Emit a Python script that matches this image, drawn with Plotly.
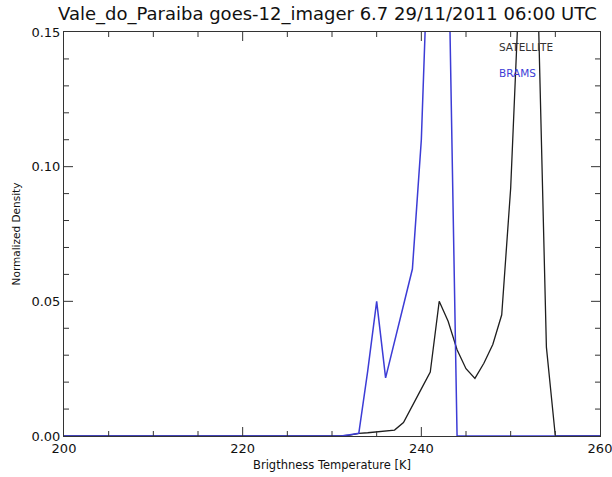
import plotly.graph_objects as go

# Brightness temperature bins [K]
temperature = [200, 230, 231, 232, 233, 234, 235, 236, 237, 238, 239, 240,
               241, 242, 243, 244, 245, 246, 247, 248, 249, 250, 251, 252,
               253, 254, 255, 256, 260]

# SATELLITE normalized density
satellite = [0.0, 0.0, 0.0, 0.0003, 0.001, 0.0012, 0.0015, 0.002, 0.0022, 0.005,
             0.011, 0.0175, 0.0237, 0.050, 0.0426, 0.032, 0.0250, 0.0214, 0.027,
             0.034, 0.045, 0.092, 0.17, 0.22, 0.17, 0.033, 0.0, 0.0, 0.0]

# BRAMS normalized density
brams = [0.0, 0.0, 0.0, 0.0005, 0.001, 0.0242, 0.050, 0.0216, 0.035, 0.049,
         0.062, 0.11, 0.25, 0.30, 0.19, 0.0, 0.0, 0.0, 0.0, 0.0, 0.0, 0.0,
         0.0, 0.0, 0.0, 0.0, 0.0, 0.0, 0.0]

x_major = [200, 220, 240, 260]
y_major = [0.0, 0.05, 0.10, 0.15]

title_text = "Vale_do_Paraiba goes-12_imager 6.7 29/11/2011 06:00 UTC"
x_title = "Brigthness Temperature [K]"
y_title = "Normalized Density"

BLACK = "#1e1e1e"
BLUE = "#3c3cd6"
AXIS = "#333333"
FONT = "DejaVu Sans"

fig = go.Figure()
fig.add_trace(go.Scatter(x=temperature, y=satellite, mode="lines",
                         line=dict(color=BLACK, width=1.3), name="SATELLITE"))
fig.add_trace(go.Scatter(x=temperature, y=brams, mode="lines",
                         line=dict(color=BLUE, width=1.5), name="BRAMS"))

fig.add_annotation(text="SATELLITE", xref="paper", yref="paper", x=0.808, y=0.962,
                   xanchor="left", yanchor="middle", showarrow=False,
                   font=dict(family=FONT, size=10.5, color="#333333"))
fig.add_annotation(text="BRAMS", xref="paper", yref="paper", x=0.808, y=0.898,
                   xanchor="left", yanchor="middle", showarrow=False,
                   font=dict(family=FONT, size=10.5, color=BLUE))

# Inward tick marks (IDL style) on all four sides, placed in axis coordinates
tick_line = dict(color=AXIS, width=1)
x_minor = list(range(205, 260, 5))
for xv in x_minor:
    ln = 9 if xv % 20 == 0 else 5
    fig.add_shape(type="line", xref="x", yref="paper", ysizemode="pixel",
                  yanchor=0, x0=xv, x1=xv, y0=0, y1=ln, line=tick_line, layer="above")
    fig.add_shape(type="line", xref="x", yref="paper", ysizemode="pixel",
                  yanchor=1, x0=xv, x1=xv, y0=0, y1=-ln, line=tick_line, layer="above")
y_minor = [i / 100 for i in range(1, 15)]
for yv in y_minor:
    ln = 9 if abs(yv - 0.05) < 1e-9 or abs(yv - 0.10) < 1e-9 else 5
    fig.add_shape(type="line", yref="y", xref="paper", xsizemode="pixel",
                  xanchor=0, y0=yv, y1=yv, x0=0, x1=ln, line=tick_line, layer="above")
    fig.add_shape(type="line", yref="y", xref="paper", xsizemode="pixel",
                  xanchor=1, y0=yv, y1=yv, x0=0, x1=-ln, line=tick_line, layer="above")

fig.update_layout(
    template="none",
    width=612, height=477,
    margin=dict(l=64, r=12, t=32, b=41, autoexpand=False),
    paper_bgcolor="white", plot_bgcolor="white",
    showlegend=False,
    title=dict(text=title_text, x=0.535, xanchor="center", y=0.972, yanchor="middle",
               font=dict(family=FONT, size=18, color="#111111")),
    font=dict(family=FONT, color="#111111"),
)
fig.update_xaxes(
    range=[200, 260], tickmode="array", tickvals=x_major,
    ticks="", ticklabeloverflow="allow", automargin=False,
    showline=True, linecolor=AXIS, linewidth=1, mirror=True,
    showgrid=False, zeroline=False,
    tickfont=dict(family=FONT, size=13, color="#111111"),
    title=dict(text=x_title, font=dict(family=FONT, size=11.5, color="#111111"), standoff=6),
)
fig.update_yaxes(
    range=[0, 0.15], tickmode="array", tickvals=y_major, tickformat=".2f",
    ticks="", ticklabeloverflow="allow", automargin=False,
    showline=True, linecolor=AXIS, linewidth=1, mirror=True,
    showgrid=False, zeroline=False,
    tickfont=dict(family=FONT, size=13, color="#111111"),
    title=dict(text=y_title, font=dict(family=FONT, size=10.5, color="#111111"), standoff=8),
)

fig.write_html("out.html")
